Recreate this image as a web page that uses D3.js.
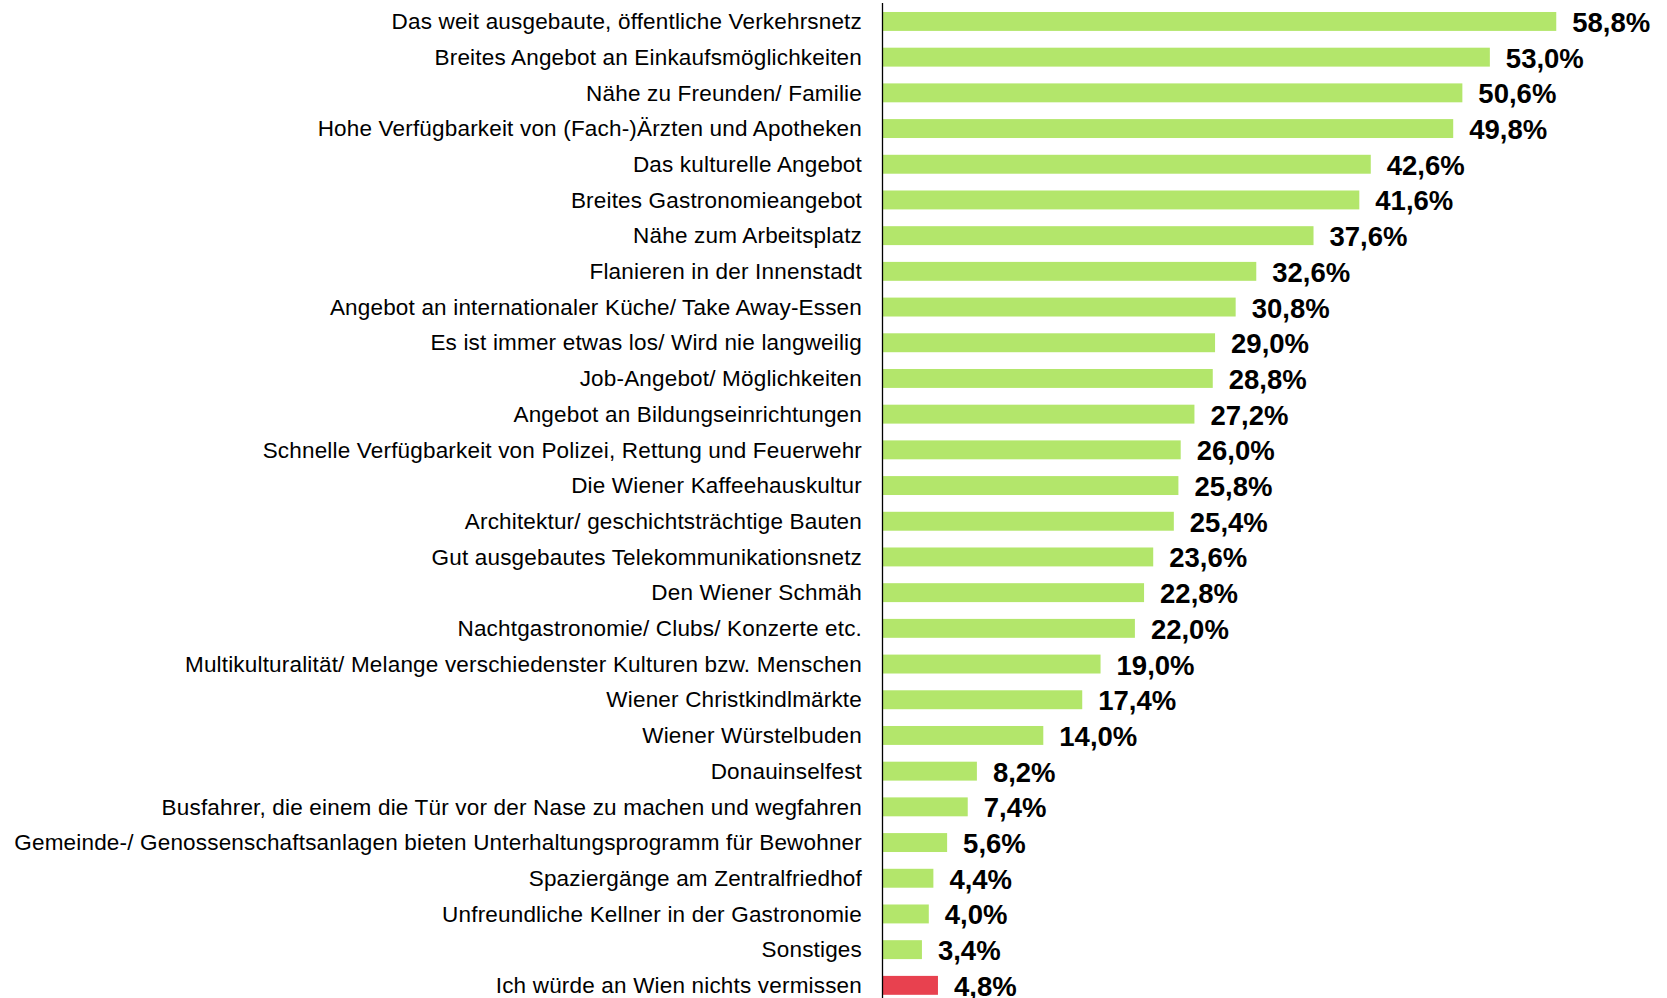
<!DOCTYPE html>
<html>
<head>
<meta charset="utf-8">
<script src="https://cdn.jsdelivr.net/npm/d3@7"></script>
<style>
	body { margin: 0; background: #fff; }
	.catLabel { font-family: "Liberation Sans", Arial, sans-serif; font-size: 22.5px; letter-spacing: 0.18px; fill: #000; }
	.valLabel { font-family: "Liberation Sans", Arial, sans-serif; font-size: 27.5px; font-weight: bold; fill: #000; }
</style>
</head>
<body>
<div id="chart"></div>
<script>
var categories = [
	"Das weit ausgebaute, öffentliche Verkehrsnetz",
	"Breites Angebot an Einkaufsmöglichkeiten",
	"Nähe zu Freunden/ Familie",
	"Hohe Verfügbarkeit von (Fach-)Ärzten und Apotheken",
	"Das kulturelle Angebot",
	"Breites Gastronomieangebot",
	"Nähe zum Arbeitsplatz",
	"Flanieren in der Innenstadt",
	"Angebot an internationaler Küche/ Take Away-Essen",
	"Es ist immer etwas los/ Wird nie langweilig",
	"Job-Angebot/ Möglichkeiten",
	"Angebot an Bildungseinrichtungen",
	"Schnelle Verfügbarkeit von Polizei, Rettung und Feuerwehr",
	"Die Wiener Kaffeehauskultur",
	"Architektur/ geschichtsträchtige Bauten",
	"Gut ausgebautes Telekommunikationsnetz",
	"Den Wiener Schmäh",
	"Nachtgastronomie/ Clubs/ Konzerte etc.",
	"Multikulturalität/ Melange verschiedenster Kulturen bzw. Menschen",
	"Wiener Christkindlmärkte",
	"Wiener Würstelbuden",
	"Donauinselfest",
	"Busfahrer, die einem die Tür vor der Nase zu machen und wegfahren",
	"Gemeinde-/ Genossenschaftsanlagen bieten Unterhaltungsprogramm für Bewohner",
	"Spaziergänge am Zentralfriedhof",
	"Unfreundliche Kellner in der Gastronomie",
	"Sonstiges",
	"Ich würde an Wien nichts vermissen"
];
var values = [58.8, 53.0, 50.6, 49.8, 42.6, 41.6, 37.6, 32.6, 30.8, 29.0, 28.8, 27.2, 26.0, 25.8,
	25.4, 23.6, 22.8, 22.0, 19.0, 17.4, 14.0, 8.2, 7.4, 5.6, 4.4, 4.0, 3.4, 4.8];
// last entry is highlighted in red
var highlight = ["Ich würde an Wien nichts vermissen"];

var data = categories.map(function(c, i) { return { cat: c, val: values[i] }; });

var width = 1667, height = 998;
var axisX = 883;

var svg = d3.select("#chart")
	.append("svg")
		.attr("width", width)
		.attr("height", height);

var x = d3.scaleLinear()
	.domain([0, 60])
	.range([axisX, axisX + 687]);

var y = d3.scaleBand()
	.domain(categories)
	.range([3.6, 3.6 + 28 * 35.7])
	.paddingInner(0.47)
	.paddingOuter(0.235);

//bars
svg.selectAll(".bar")
	.data(data)
	.enter().append("rect")
	.attr("class", "bar")
	.attr("x", x(0))
	.attr("y", function(d) { return y(d.cat); })
	.attr("width", function(d) { return x(d.val) - x(0); })
	.attr("height", y.bandwidth())
	.style("fill", function(d) { return highlight.includes(d.cat) ? "#e8414f" : "#b3e66b"; });

//value labels
svg.selectAll(".valLabel")
	.data(data)
	.enter().append("text")
	.attr("class", "valLabel")
	.attr("x", function(d) { return x(d.val) + 16; })
	.attr("y", function(d) { return y(d.cat) + y.bandwidth() / 2; })
	.attr("dy", "0.38em")
	.text(function(d) { return d3.format(".1f")(d.val).replace(".", ",") + "%"; });

//category axis
var yAxis = d3.axisLeft(y).tickSize(0).tickPadding(21);
var gAxis = svg.append("g")
	.attr("transform", "translate(" + axisX + ",0)")
	.call(yAxis);
gAxis.select(".domain").remove();
gAxis.selectAll("text")
	.attr("class", "catLabel")
	.attr("fill", null)
	.attr("font-size", null)
	.attr("font-family", null)
	.attr("dy", "0.34em");

svg.append("line")
	.attr("x1", axisX - 0.5).attr("x2", axisX - 0.5)
	.attr("y1", 3).attr("y2", height)
	.style("stroke", "#000")
	.style("stroke-width", 1.3);
</script>
</body>
</html>
